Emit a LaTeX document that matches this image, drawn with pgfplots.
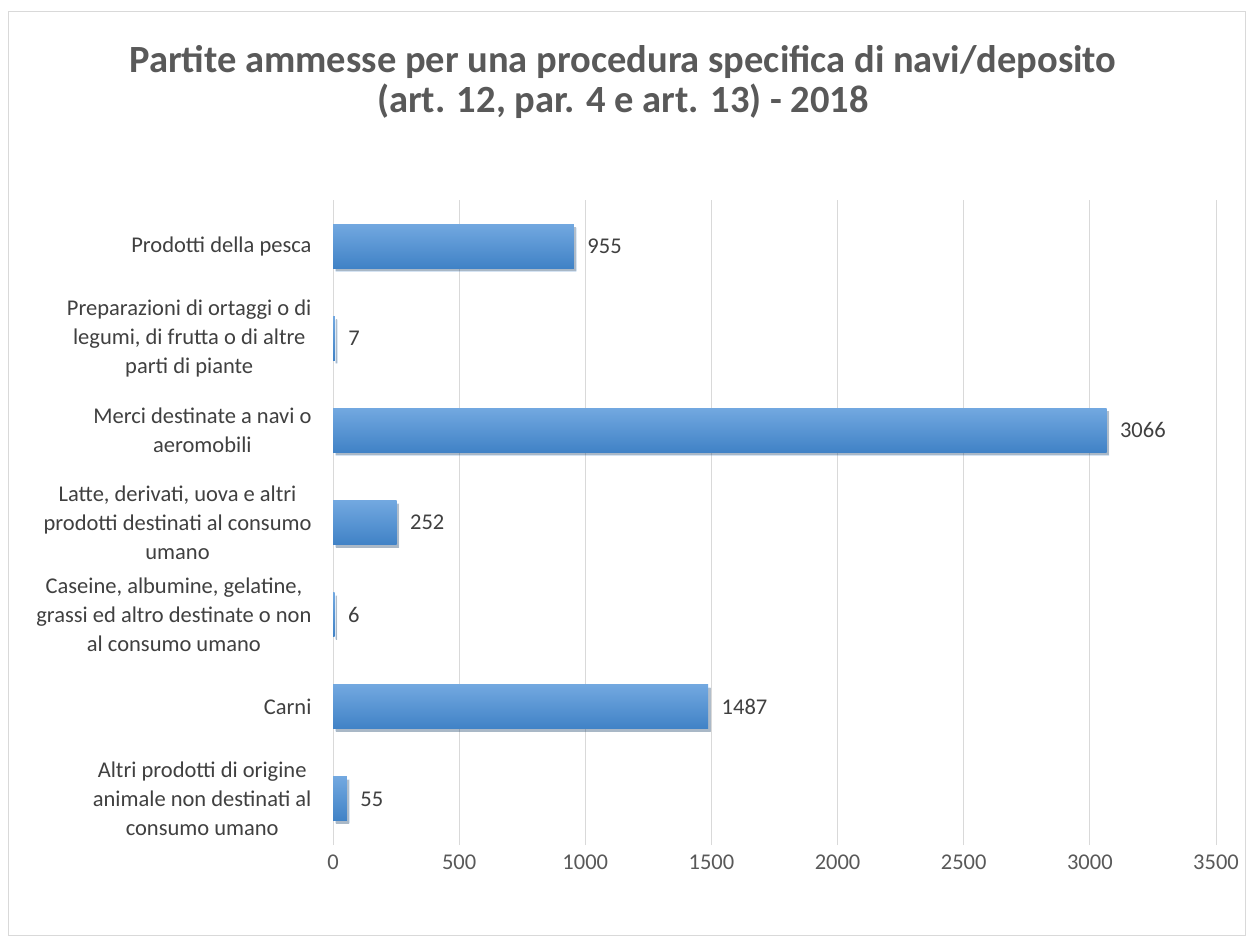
\documentclass[border=0pt]{standalone}
\usepackage{pgfplots}
\pgfplotsset{compat=1.18}
\usepackage{fontspec}
\setmainfont{Carlito}
\usetikzlibrary{shadows}
\definecolor{gridc}{RGB}{217,217,217}
\definecolor{txt}{RGB}{64,64,64}
\definecolor{tick}{RGB}{89,89,89}
\definecolor{bartop}{RGB}{114,168,224}
\definecolor{barbot}{RGB}{64,130,198}
\begin{document}
\begin{tikzpicture}[x=1pt,y=1pt]
\path (0,0) rectangle (1253,943);
\draw[gridc, line width=1pt, fill=white] (8.5,7.5) rectangle (1245.5,931.5);
\node[font=\fontsize{38.5}{40}\selectfont\bfseries, text=tick, align=center] at (623,861)
  {Partite ammesse per una procedura specifica di navi/deposito\\(art. 12, par. 4 e art. 13) - 2018};
\begin{axis}[
  at={(333pt,98pt)}, anchor=south west,
  scale only axis, width=883pt, height=645pt,
  xbar, bar width=44pt, bar shift=0pt,
  xmin=0, xmax=3500, ymin=-0.5, ymax=6.5,
  xtick={0,500,...,3500},
  ytick={0,1,2,3,4,5,6},
  yticklabels={
    {Altri prodotti di origine\\animale non destinati al\\consumo umano},
    {Carni},
    {Caseine, albumine, gelatine,\\grassi ed altro destinate o non\\al consumo umano},
    {Latte, derivati, uova e altri\\prodotti destinati al consumo\\umano},
    {Merci destinate a navi o\\aeromobili},
    {Preparazioni di ortaggi o di\\legumi, di frutta o di altre\\parti di piante},
    {Prodotti della pesca}},
  /pgf/number format/1000 sep={},
  /pgf/number format/assume math mode=true,
  axis line style={draw=none},
  major tick length=0pt,
  xmajorgrids, major grid style={gridc, line width=1pt},
  ticklabel style={font=\fontsize{22.5}{29}\selectfont},
  xticklabel style={text=tick, yshift=-6pt},
  yticklabel style={text=txt, align=center, xshift=-18pt},
  nodes near coords,
  point meta=x,
  nodes near coords style={font=\fontsize{22.5}{29}\selectfont, text=txt, xshift=10pt},
  clip=false,
  barstyle/.style={draw=none, top color=bartop, bottom color=barbot,
    drop shadow={shadow xshift=2.5pt, shadow yshift=-3pt, opacity=0.22, fill=black}},
]
\addplot[barstyle] coordinates {(55,0)};
\addplot[barstyle] coordinates {(1487,1)};
\addplot[barstyle] coordinates {(6,2)};
\addplot[barstyle] coordinates {(252,3)};
\addplot[barstyle] coordinates {(3066,4)};
\addplot[barstyle] coordinates {(7,5)};
\addplot[barstyle] coordinates {(955,6)};
\end{axis}
\end{tikzpicture}
\end{document}
